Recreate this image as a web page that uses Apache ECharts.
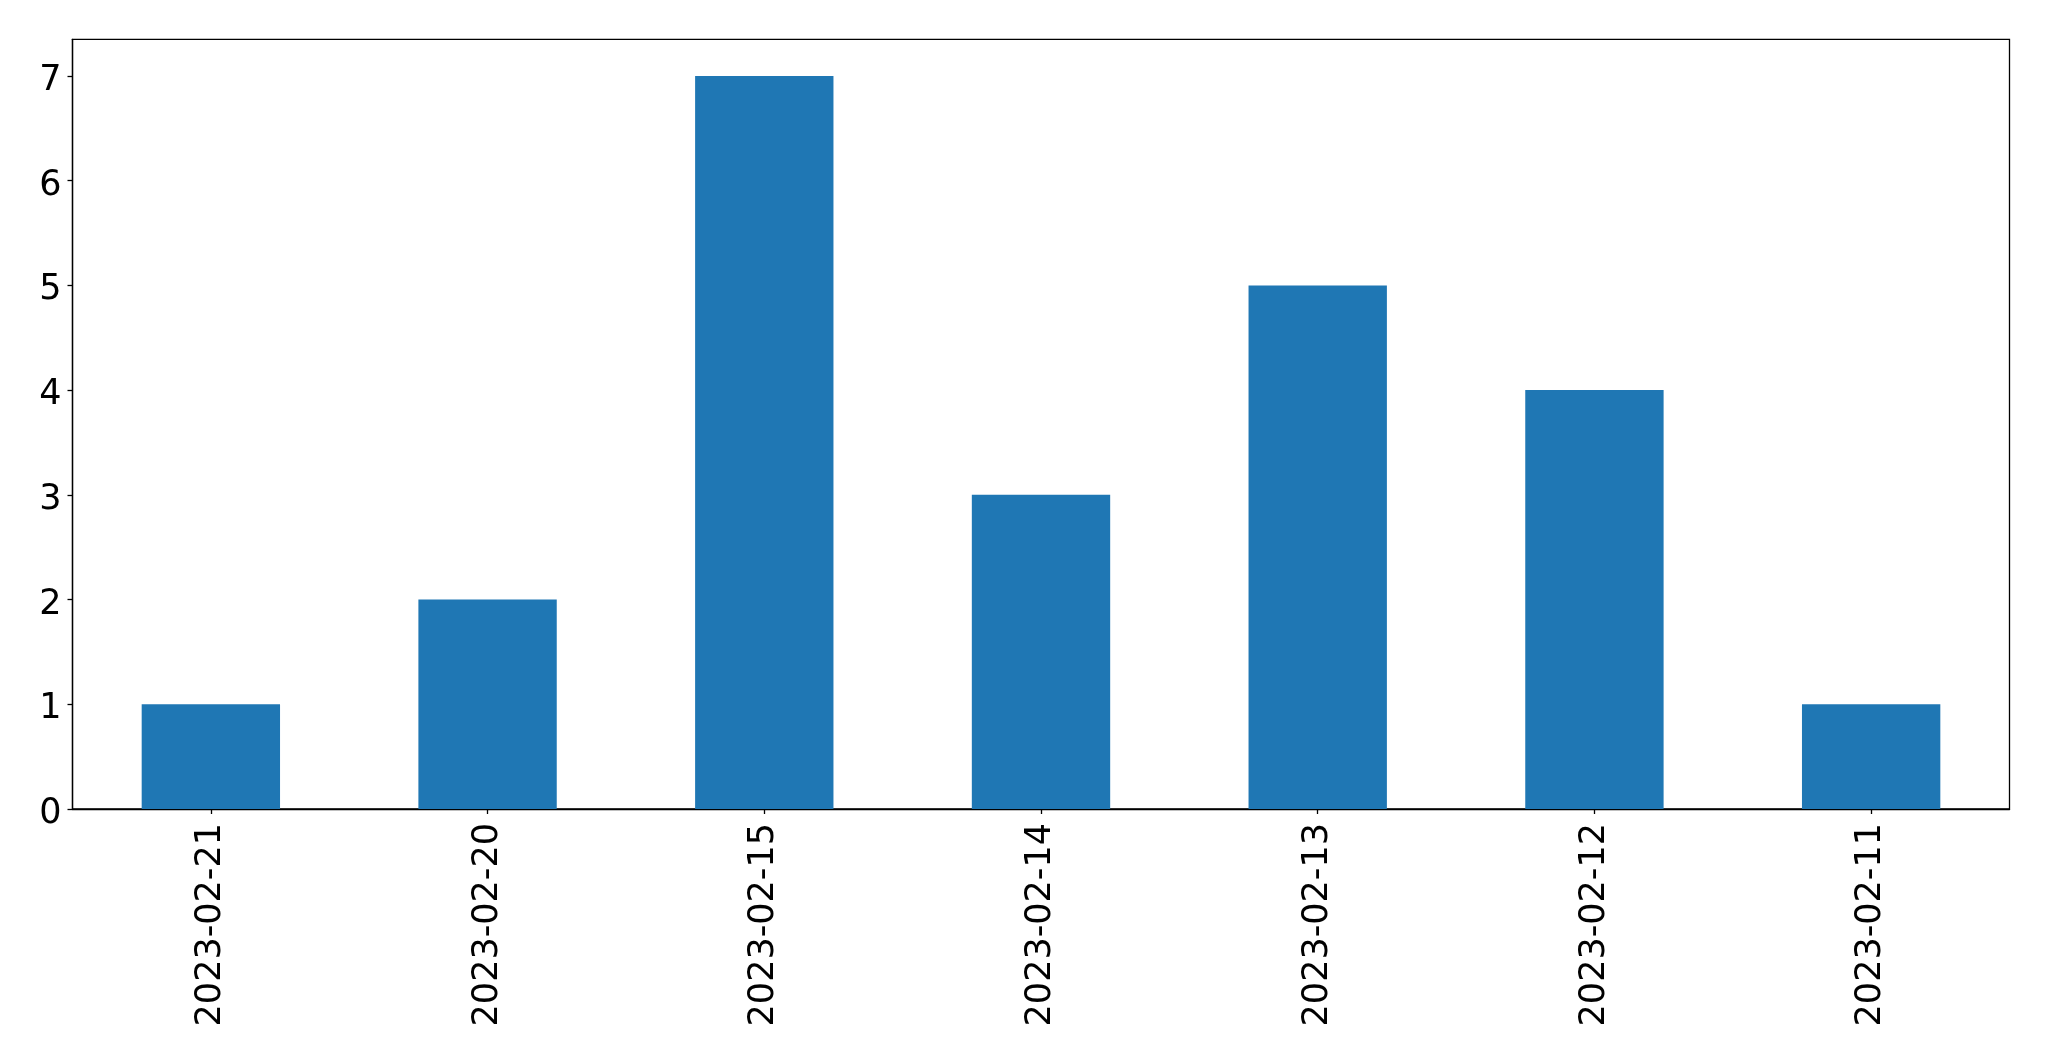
<!DOCTYPE html>
<html><head><meta charset="utf-8">
<script src="https://cdn.jsdelivr.net/npm/echarts@6/dist/echarts.min.js"></script>
<style>html,body{margin:0;padding:0;background:#fff}#c{width:2049px;height:1061px}</style>
</head><body><div id="c"></div>
<script>
const categories = ['2023-02-21','2023-02-20','2023-02-15','2023-02-14','2023-02-13','2023-02-12','2023-02-11'];
const values = [1, 2, 7, 3, 5, 4, 1];
const yTicks = [0, 1, 2, 3, 4, 5, 6, 7];
const yMax = 7.35;

const chart = echarts.init(document.getElementById('c'), null, {renderer: 'canvas'});
const font = 'DejaVu Sans';
chart.setOption({
  animation: false,
  backgroundColor: '#fff',
  grid: {left: 72.5, right: 39.5, top: 39.3, bottom: 252, show: true, borderColor: '#000', borderWidth: 1.3, backgroundColor: 'transparent'},
  xAxis: {
    type: 'category', data: categories, boundaryGap: true,
    axisLine: {show: true, lineStyle: {color: '#000', width: 1.3}},
    axisTick: {show: true, alignWithLabel: true, length: 5, lineStyle: {color: '#000', width: 1.3}},
    axisLabel: {rotate: 90, margin: 14, fontSize: 35, color: '#000', fontFamily: font, interval: 0},
    splitLine: {show: false}
  },
  yAxis: {
    type: 'value', min: 0, max: yMax,
    axisLine: {show: true, lineStyle: {color: '#000', width: 1.3}},
    axisTick: {show: true, length: 5, customValues: yTicks, lineStyle: {color: '#000', width: 1.3}},
    axisLabel: {margin: 11, color: '#000', customValues: yTicks,
      formatter: '{a|{value}}',
      rich: {a: {fontSize: 35, fontFamily: font, color: '#000', padding: [10, 0, 0, 0]}}},
    splitLine: {show: false}
  },
  series: [{
    type: 'bar', data: values, barWidth: '50%',
    itemStyle: {color: '#1f77b4'}
  }]
});
</script></body></html>
